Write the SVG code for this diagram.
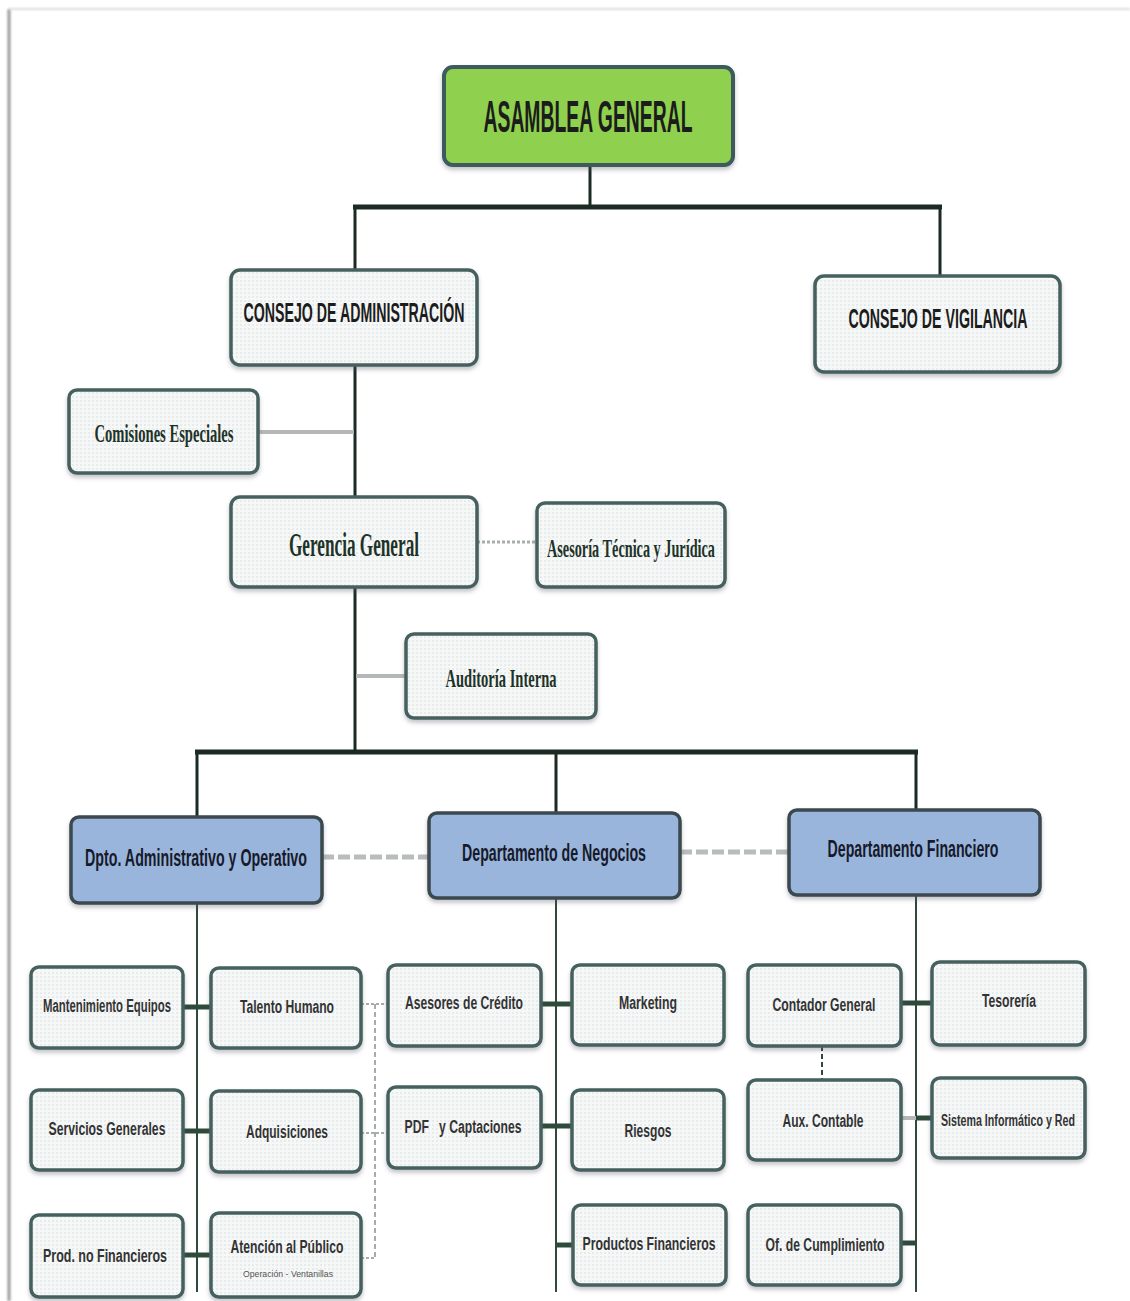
<svg xmlns="http://www.w3.org/2000/svg" width="1130" height="1301" viewBox="0 0 1130 1301">
<defs>
<pattern id="dots" width="4" height="4" patternUnits="userSpaceOnUse">
<rect width="4" height="4" fill="#f6f8f8"/>
<circle cx="1" cy="1" r="0.8" fill="#d6dcdc"/>
</pattern>
<filter id="sh" x="-10%" y="-20%" width="120%" height="150%">
<feDropShadow dx="0" dy="3" stdDeviation="2" flood-color="#556" flood-opacity="0.35"/>
</filter>
<filter id="fr" x="-5%" y="-5%" width="110%" height="110%">
<feGaussianBlur stdDeviation="1.2"/>
</filter>
</defs>
<style>
.box{fill:url(#dots);stroke:#44615e;stroke-width:3.5;filter:url(#sh)}
.green{fill:#8fd14f;stroke:#3c5a5c;stroke-width:4;filter:url(#sh)}
.blue{fill:#9ab5dc;stroke:#3a4a50;stroke-width:3.5;filter:url(#sh)}
.sans{font-family:"Liberation Sans",Arial,sans-serif;font-weight:bold;text-anchor:middle;fill:#1c1c1c}
.serif{font-family:"Liberation Serif","Times New Roman",serif;font-weight:bold;text-anchor:middle;fill:#1e3328}
.navy{fill:#161a2a}
.grey{fill:#333333}
.thick{stroke:#1b2a22;stroke-width:5;fill:none}
.mid{stroke:#1b2a22;stroke-width:3;fill:none}
.thin{stroke:#2d4a3a;stroke-width:2;fill:none}
.stub{stroke:#2d4a3a;stroke-width:5;fill:none}
.lgrey{stroke:#b4b8b8;stroke-width:4;fill:none}
.dot{stroke:#a8adad;stroke-width:3;stroke-dasharray:3 2;fill:none}
.dash{stroke:#b8bcbc;stroke-width:5;stroke-dasharray:12 4;fill:none}
.vdash{stroke:#8a9090;stroke-width:1.5;stroke-dasharray:5 3;fill:none}
</style>
<rect x="0" y="0" width="1130" height="1301" fill="#ffffff"/>
<g id="frame" filter="url(#fr)">
<line x1="9" y1="9" x2="9" y2="1301" stroke="#9a9a9a" stroke-width="3"/>
<line x1="9" y1="9" x2="1130" y2="9" stroke="#dcdcdc" stroke-width="2"/>
</g>
<g id="connectors">
<line class="mid" x1="590" y1="165" x2="590" y2="207"/>
<line class="thick" x1="353" y1="207" x2="942" y2="207"/>
<line class="mid" x1="355" y1="207" x2="355" y2="270"/>
<line class="mid" x1="940" y1="207" x2="940" y2="275"/>
<line class="mid" x1="355" y1="365" x2="355" y2="497"/>
<line class="lgrey" x1="258" y1="432" x2="354" y2="432"/>
<line class="dot" x1="477" y1="542" x2="537" y2="542"/>
<line class="mid" x1="355" y1="587" x2="355" y2="752"/>
<line class="lgrey" x1="356" y1="676" x2="406" y2="676"/>
<line class="thick" x1="195" y1="752" x2="918" y2="752"/>
<line class="mid" x1="197" y1="752" x2="197" y2="817"/>
<line class="mid" x1="556" y1="752" x2="556" y2="813"/>
<line class="mid" x1="916" y1="752" x2="916" y2="810"/>
<line class="dash" x1="322" y1="857" x2="428" y2="857"/>
<line class="dash" x1="680" y1="852" x2="788" y2="852"/>
<line class="thin" x1="197" y1="903" x2="197" y2="1292"/>
<line class="thin" x1="556" y1="898" x2="556" y2="1292"/>
<line class="thin" x1="916" y1="895" x2="916" y2="1292"/>
<line class="stub" x1="183" y1="1007" x2="211" y2="1007"/>
<line class="stub" x1="183" y1="1131" x2="211" y2="1131"/>
<line class="stub" x1="183" y1="1255" x2="211" y2="1255"/>
<line class="stub" x1="541" y1="1004" x2="572" y2="1004"/>
<line class="stub" x1="541" y1="1126" x2="572" y2="1126"/>
<line class="stub" x1="556" y1="1245" x2="573" y2="1245"/>
<line class="stub" x1="901" y1="1003" x2="932" y2="1003"/>
<line class="lgrey" x1="901" y1="1118" x2="916" y2="1118"/>
<line class="stub" x1="916" y1="1118" x2="932" y2="1118"/>
<line class="stub" x1="901" y1="1243" x2="916" y2="1243"/>
<line class="dot" x1="361" y1="1004" x2="388" y2="1004" style="stroke-width:2"/>
<line class="dot" x1="361" y1="1133" x2="388" y2="1133" style="stroke-width:2"/>
<line class="dot" x1="361" y1="1258" x2="375" y2="1258" style="stroke-width:2"/>
<line class="vdash" x1="375" y1="1004" x2="375" y2="1258"/>
<line class="vdash" x1="822" y1="1046" x2="822" y2="1080" style="stroke:#2d4a3a;stroke-width:2"/>
</g>
<g id="asamblea"><rect class="green" x="444" y="67" width="289" height="98" rx="9"/><text class="sans" transform="scale(0.5,1)" x="1176" y="132" font-size="44" textLength="418" lengthAdjust="spacingAndGlyphs">ASAMBLEA GENERAL</text></g>
<g id="consejo-admin"><rect class="box" x="231" y="270" width="246" height="95" rx="9"/><text class="sans" transform="scale(0.5,1)" x="708" y="322" font-size="27" textLength="442" lengthAdjust="spacingAndGlyphs">CONSEJO DE ADMINISTRACIÓN</text></g>
<g id="consejo-vigilancia"><rect class="box" x="815" y="276" width="245" height="96" rx="9"/><text class="sans" transform="scale(0.5,1)" x="1876" y="328" font-size="27" textLength="358" lengthAdjust="spacingAndGlyphs">CONSEJO DE VIGILANCIA</text></g>
<g id="comisiones"><rect class="box" x="69" y="390" width="189" height="83" rx="8"/><text class="serif" transform="scale(0.6,1)" x="273.3" y="442" font-size="26" textLength="231.7" lengthAdjust="spacingAndGlyphs">Comisiones Especiales</text></g>
<g id="gerencia"><rect class="box" x="231" y="497" width="246" height="90" rx="9"/><text class="serif" transform="scale(0.6,1)" x="590" y="556" font-size="34" textLength="216.7" lengthAdjust="spacingAndGlyphs">Gerencia General</text></g>
<g id="asesoria"><rect class="box" x="537" y="503" width="188" height="84" rx="8"/><text class="serif" transform="scale(0.5,1)" x="1262" y="557" font-size="25" textLength="336" lengthAdjust="spacingAndGlyphs">Asesoría Técnica y Jurídica</text></g>
<g id="auditoria"><rect class="box" x="406" y="634" width="190" height="84" rx="8"/><text class="serif" transform="scale(0.6,1)" x="835" y="687" font-size="25" textLength="185" lengthAdjust="spacingAndGlyphs">Auditoría Interna</text></g>
<g id="dpto-admin"><rect class="blue" x="71" y="817" width="251" height="86" rx="8"/><text class="sans navy" transform="scale(0.55,1)" x="356.4" y="866" font-size="24" textLength="403.6" lengthAdjust="spacingAndGlyphs">Dpto. Administrativo y Operativo</text></g>
<g id="dpto-negocios"><rect class="blue" x="429" y="813" width="251" height="85" rx="8"/><text class="sans navy" transform="scale(0.55,1)" x="1007.3" y="861" font-size="24" textLength="334.5" lengthAdjust="spacingAndGlyphs">Departamento de Negocios</text></g>
<g id="dpto-financiero"><rect class="blue" x="789" y="810" width="251" height="85" rx="8"/><text class="sans navy" transform="scale(0.55,1)" x="1660" y="857" font-size="24" textLength="310.9" lengthAdjust="spacingAndGlyphs">Departamento Financiero</text></g>
<g id="mantenimiento"><rect class="box" x="31" y="967" width="152" height="81" rx="8"/><text class="sans grey" transform="scale(0.6,1)" x="178.3" y="1012" font-size="19" textLength="213.3" lengthAdjust="spacingAndGlyphs">Mantenimiento  Equipos</text></g>
<g id="talento"><rect class="box" x="211" y="968" width="150" height="80" rx="8"/><text class="sans grey" transform="scale(0.6,1)" x="478.3" y="1013" font-size="19" textLength="156.7" lengthAdjust="spacingAndGlyphs">Talento Humano</text></g>
<g id="servicios"><rect class="box" x="31" y="1090" width="152" height="80" rx="8"/><text class="sans grey" transform="scale(0.6,1)" x="178.3" y="1135" font-size="19" textLength="195" lengthAdjust="spacingAndGlyphs">Servicios Generales</text></g>
<g id="adquisiciones"><rect class="box" x="211" y="1091" width="150" height="81" rx="8"/><text class="sans grey" transform="scale(0.6,1)" x="478.3" y="1138" font-size="19" textLength="136.7" lengthAdjust="spacingAndGlyphs">Adquisiciones</text></g>
<g id="prod-no-fin"><rect class="box" x="31" y="1215" width="152" height="82" rx="8"/><text class="sans grey" transform="scale(0.6,1)" x="175" y="1262" font-size="19" textLength="206.7" lengthAdjust="spacingAndGlyphs">Prod. no  Financieros</text></g>
<g id="atencion"><rect class="box" x="211" y="1213" width="150" height="84" rx="8"/><text class="sans grey" transform="scale(0.6,1)" x="478.3" y="1253" font-size="19" textLength="188.3" lengthAdjust="spacingAndGlyphs">Atención al Público</text><text class="sans" x="288" y="1277" font-size="9" textLength="90" lengthAdjust="spacingAndGlyphs" style="font-weight:normal;fill:#555">Operación - Ventanillas</text></g>
<g id="asesores"><rect class="box" x="388" y="965" width="153" height="81" rx="8"/><text class="sans grey" transform="scale(0.6,1)" x="773.3" y="1009" font-size="19" textLength="196.7" lengthAdjust="spacingAndGlyphs">Asesores de Crédito</text></g>
<g id="marketing"><rect class="box" x="572" y="965" width="152" height="80" rx="8"/><text class="sans grey" transform="scale(0.6,1)" x="1080" y="1009" font-size="19" textLength="96.7" lengthAdjust="spacingAndGlyphs">Marketing</text></g>
<g id="pdf"><rect class="box" x="388" y="1087" width="153" height="81" rx="8"/><text class="sans grey" transform="scale(0.6,1)" x="771.7" y="1133" font-size="19" textLength="195" lengthAdjust="spacingAndGlyphs" xml:space="preserve">PDF   y Captaciones</text></g>
<g id="riesgos"><rect class="box" x="572" y="1090" width="152" height="80" rx="8"/><text class="sans grey" transform="scale(0.6,1)" x="1080" y="1137" font-size="19" textLength="78.3" lengthAdjust="spacingAndGlyphs">Riesgos</text></g>
<g id="productos-fin"><rect class="box" x="573" y="1205" width="153" height="80" rx="8"/><text class="sans grey" transform="scale(0.6,1)" x="1081.7" y="1250" font-size="19" textLength="221.7" lengthAdjust="spacingAndGlyphs">Productos Financieros</text></g>
<g id="contador"><rect class="box" x="748" y="965" width="153" height="81" rx="8"/><text class="sans grey" transform="scale(0.6,1)" x="1373.3" y="1011" font-size="19" textLength="171.7" lengthAdjust="spacingAndGlyphs">Contador General</text></g>
<g id="tesoreria"><rect class="box" x="932" y="962" width="153" height="83" rx="8"/><text class="sans grey" transform="scale(0.6,1)" x="1681.7" y="1007" font-size="19" textLength="90" lengthAdjust="spacingAndGlyphs">Tesorería</text></g>
<g id="aux-contable"><rect class="box" x="748" y="1080" width="153" height="80" rx="8"/><text class="sans grey" transform="scale(0.6,1)" x="1371.7" y="1127" font-size="19" textLength="135" lengthAdjust="spacingAndGlyphs">Aux. Contable</text></g>
<g id="sistema"><rect class="box" x="932" y="1078" width="153" height="80" rx="8"/><text class="sans grey" transform="scale(0.55,1)" x="1832.7" y="1126" font-size="17" textLength="243.6" lengthAdjust="spacingAndGlyphs">Sistema Informático y Red</text></g>
<g id="cumplimiento"><rect class="box" x="748" y="1205" width="153" height="80" rx="8"/><text class="sans grey" transform="scale(0.6,1)" x="1375" y="1251" font-size="19" textLength="198.3" lengthAdjust="spacingAndGlyphs">Of. de Cumplimiento</text></g>
</svg>
